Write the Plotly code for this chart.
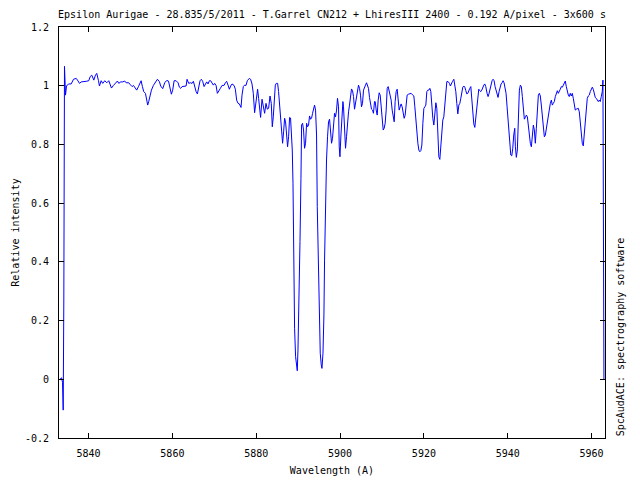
import plotly.graph_objects as go

# Wavelength (Angstrom) and relative intensity
wavelength = [
    5833.19, 5833.55, 5833.79, 5833.95, 5834.10, 5834.26, 5834.50, 5834.74, 5835.22, 5835.86,
    5836.41, 5837.05, 5837.36, 5837.84, 5838.24, 5838.79, 5839.43, 5840.05, 5840.39, 5840.77,
    5841.01, 5841.25, 5841.65, 5841.96, 5842.37, 5842.60, 5843.01, 5843.39, 5843.87, 5844.34,
    5844.82, 5845.15, 5845.46, 5845.94, 5846.42, 5846.89, 5847.20, 5847.68, 5848.16, 5848.63,
    5848.97, 5849.59, 5849.99, 5850.40, 5850.71, 5851.18, 5851.49, 5851.90, 5852.30, 5852.54,
    5852.85, 5853.16, 5853.57, 5853.88, 5854.11, 5854.35, 5854.69, 5855.00, 5855.47, 5855.95,
    5856.43, 5856.90, 5857.21, 5857.69, 5858.17, 5858.57, 5858.98, 5859.12, 5859.45, 5859.76,
    5860.07, 5860.41, 5860.88, 5861.36, 5861.67, 5861.98, 5862.31, 5862.79, 5863.27, 5863.50,
    5863.89, 5864.29, 5864.70, 5865.01, 5865.32, 5865.65, 5865.96, 5866.27, 5866.60, 5866.91,
    5867.22, 5867.56, 5867.87, 5868.18, 5868.51, 5868.82, 5869.13, 5869.46, 5869.77, 5870.08,
    5870.42, 5870.73, 5871.04, 5871.44, 5871.84, 5872.32, 5872.63, 5872.94, 5873.28, 5873.59,
    5873.90, 5874.23, 5874.71, 5875.02, 5875.33, 5875.66, 5875.97, 5876.37, 5876.61, 5876.92,
    5877.23, 5877.56, 5877.87, 5878.35, 5878.66, 5878.99, 5879.30, 5879.61, 5879.85, 5880.09,
    5880.33, 5880.57, 5880.81, 5881.04, 5881.38, 5881.69, 5882.00, 5882.33, 5882.64, 5882.95,
    5883.29, 5883.59, 5883.83, 5884.07, 5884.31, 5884.55, 5884.79, 5885.10, 5885.33, 5885.57,
    5885.81, 5886.05, 5886.29, 5886.53, 5886.77, 5887.00, 5887.24, 5887.48, 5887.72, 5887.96,
    5888.19, 5888.36, 5888.60, 5888.77, 5888.91, 5889.15, 5889.39, 5889.62, 5889.79, 5889.96,
    5890.20, 5890.44, 5890.67, 5890.82, 5891.05, 5891.29, 5891.53, 5891.77, 5892.01, 5892.25,
    5892.48, 5892.72, 5892.96, 5893.20, 5893.44, 5893.68, 5893.91, 5894.15, 5894.39, 5894.56,
    5894.80, 5895.03, 5895.27, 5895.51, 5895.68, 5895.92, 5896.15, 5896.30, 5896.54, 5896.77,
    5897.01, 5897.25, 5897.49, 5897.73, 5897.97, 5898.20, 5898.44, 5898.68, 5898.92, 5899.16,
    5899.39, 5899.63, 5899.80, 5899.97, 5900.21, 5900.44, 5900.68, 5900.82, 5901.06, 5901.30,
    5901.54, 5901.78, 5902.02, 5902.25, 5902.49, 5902.73, 5902.97, 5903.21, 5903.45, 5903.68,
    5903.92, 5904.16, 5904.40, 5904.64, 5904.88, 5905.11, 5905.35, 5905.59, 5905.83, 5906.07,
    5906.31, 5906.54, 5906.78, 5907.02, 5907.26, 5907.50, 5907.74, 5907.97, 5908.21, 5908.38,
    5908.62, 5908.86, 5909.09, 5909.33, 5909.57, 5909.81, 5910.05, 5910.29, 5910.52, 5910.76,
    5911.00, 5911.24, 5911.48, 5911.72, 5911.95, 5912.19, 5912.43, 5912.67, 5912.91, 5913.14,
    5913.38, 5913.62, 5913.86, 5914.10, 5914.34, 5914.57, 5914.81, 5915.05, 5915.29, 5915.53,
    5915.77, 5916.00, 5916.31, 5916.65, 5916.96, 5917.27, 5917.60, 5917.84, 5918.08, 5918.32,
    5918.56, 5918.79, 5919.03, 5919.27, 5919.51, 5919.75, 5919.99, 5920.22, 5920.46, 5920.70,
    5920.94, 5921.18, 5921.42, 5921.65, 5921.89, 5922.13, 5922.37, 5922.61, 5922.85, 5923.08,
    5923.32, 5923.56, 5923.80, 5924.04, 5924.27, 5924.51, 5924.75, 5924.99, 5925.23, 5925.47,
    5925.78, 5926.09, 5926.32, 5926.56, 5926.80, 5927.14, 5927.37, 5927.61, 5927.85, 5928.09,
    5928.33, 5928.57, 5928.80, 5929.04, 5929.28, 5929.52, 5929.76, 5930.00, 5930.23, 5930.47,
    5930.71, 5930.95, 5931.19, 5931.43, 5931.66, 5931.90, 5932.14, 5932.38, 5932.62, 5932.86,
    5933.09, 5933.33, 5933.57, 5933.81, 5934.05, 5934.29, 5934.52, 5934.76, 5935.07, 5935.31,
    5935.55, 5935.79, 5936.02, 5936.26, 5936.50, 5936.74, 5936.98, 5937.22, 5937.45, 5937.69,
    5937.93, 5938.17, 5938.41, 5938.65, 5938.88, 5939.12, 5939.36, 5939.60, 5939.84, 5940.08,
    5940.31, 5940.55, 5940.72, 5940.96, 5941.20, 5941.43, 5941.67, 5941.82, 5942.05, 5942.29,
    5942.53, 5942.77, 5943.01, 5943.25, 5943.48, 5943.72, 5943.96, 5944.20, 5944.44, 5944.68,
    5944.91, 5945.15, 5945.39, 5945.63, 5945.87, 5946.11, 5946.34, 5946.58, 5946.82, 5947.06,
    5947.30, 5947.54, 5947.77, 5948.01, 5948.25, 5948.49, 5948.73, 5948.97, 5949.20, 5949.44,
    5949.68, 5949.92, 5950.16, 5950.40, 5950.63, 5950.87, 5951.11, 5951.35, 5951.59, 5951.83,
    5952.06, 5952.30, 5952.54, 5952.78, 5953.02, 5953.26, 5953.49, 5953.73, 5953.97, 5954.21,
    5954.45, 5954.68, 5954.92, 5955.16, 5955.40, 5955.64, 5955.88, 5956.11, 5956.35, 5956.59,
    5956.83, 5957.07, 5957.31, 5957.54, 5957.78, 5958.02, 5958.26, 5958.50, 5958.74, 5958.97,
    5959.21, 5959.45, 5959.69, 5959.93, 5960.17, 5960.40, 5960.64, 5960.88, 5961.12, 5961.36,
    5961.60, 5961.83, 5962.07, 5962.31, 5962.55, 5962.71, 5962.83, 5962.95,
]

intensity = [
    0.000, 0.005, -0.010, -0.105, 0.270, 1.066, 0.968, 0.999, 1.006, 1.006,
    1.022, 1.025, 1.019, 1.008, 1.013, 1.013, 1.015, 1.017, 1.031, 1.036,
    1.029, 1.019, 1.036, 1.042, 1.017, 0.999, 1.017, 1.008, 1.017, 1.010,
    1.017, 0.999, 0.992, 1.001, 1.010, 1.016, 1.008, 1.013, 1.013, 1.016,
    1.010, 1.010, 1.003, 0.997, 1.001, 0.992, 0.985, 0.997, 1.010, 1.017,
    0.997, 0.980, 0.974, 0.951, 0.934, 0.946, 0.974, 0.985, 1.001, 1.013,
    1.022, 1.014, 0.999, 0.990, 1.010, 1.017, 1.017, 1.013, 0.985, 0.971,
    0.985, 1.017, 1.017, 1.010, 0.995, 0.991, 0.997, 0.999, 0.999, 1.022,
    1.008, 1.010, 1.008, 1.015, 0.997, 0.980, 0.972, 0.995, 1.017, 1.022,
    1.015, 0.997, 1.006, 1.013, 1.006, 1.017, 1.017, 1.010, 1.002, 1.008,
    1.001, 0.974, 0.980, 0.991, 1.001, 1.001, 1.010, 1.015, 1.002, 0.988,
    0.999, 1.006, 1.001, 0.988, 0.951, 0.940, 0.938, 0.926, 0.968, 0.997,
    1.002, 1.001, 1.017, 1.025, 1.022, 1.006, 0.974, 0.908, 0.934, 0.965,
    0.988, 0.957, 0.917, 0.892, 0.954, 0.934, 0.906, 0.940, 0.920, 0.923,
    0.965, 0.940, 0.860, 0.894, 0.974, 1.002, 1.008, 1.008, 0.980, 0.934,
    0.881, 0.826, 0.804, 0.843, 0.889, 0.877, 0.815, 0.792, 0.826, 0.892,
    0.890, 0.855, 0.781, 0.668, 0.338, 0.174, 0.077, 0.043, 0.029, 0.100,
    0.242, 0.469, 0.685, 0.866, 0.872, 0.849, 0.787, 0.804, 0.872, 0.860,
    0.866, 0.897, 0.886, 0.889, 0.906, 0.928, 0.934, 0.917, 0.832, 0.588,
    0.378, 0.191, 0.089, 0.049, 0.037, 0.089, 0.219, 0.406, 0.634, 0.747,
    0.826, 0.877, 0.886, 0.843, 0.804, 0.821, 0.855, 0.906, 0.894, 0.917,
    0.957, 0.928, 0.792, 0.758, 0.832, 0.900, 0.946, 0.928, 0.855, 0.787,
    0.826, 0.883, 0.911, 0.934, 0.974, 0.989, 0.983, 0.963, 0.920, 0.940,
    0.965, 0.974, 1.002, 0.991, 0.968, 0.928, 0.940, 0.985, 0.997, 1.002,
    1.010, 1.002, 0.991, 0.960, 0.931, 0.920, 0.917, 0.906, 0.946, 0.946,
    0.917, 0.900, 0.951, 0.976, 0.968, 0.928, 0.883, 0.849, 0.855, 0.872,
    0.917, 0.991, 0.997, 0.980, 0.974, 0.951, 0.917, 0.889, 0.877, 0.946,
    0.980, 0.988, 0.951, 0.917, 0.928, 0.938, 0.928, 0.911, 0.889, 0.900,
    0.934, 0.968, 0.971, 0.974, 0.974, 0.969, 0.965, 0.928, 0.883, 0.821,
    0.804, 0.781, 0.775, 0.779, 0.798, 0.872, 0.923, 0.928, 0.934, 0.980,
    0.985, 0.985, 0.991, 0.980, 0.928, 0.889, 0.866, 0.900, 0.942, 0.923,
    0.838, 0.758, 0.749, 0.809, 0.843, 0.883, 0.894, 0.928, 0.974, 1.014,
    1.014, 1.008, 0.999, 1.008, 1.014, 1.022, 1.002, 0.980, 0.940, 0.904,
    0.934, 0.940, 0.957, 0.974, 0.995, 0.999, 0.995, 0.983, 0.972, 0.974,
    0.985, 0.991, 0.997, 0.946, 0.889, 0.870, 0.858, 0.889, 0.923, 0.957,
    0.988, 0.983, 0.980, 0.985, 0.997, 1.002, 1.006, 0.997, 0.974, 0.963,
    0.974, 0.991, 1.008, 1.017, 1.022, 1.017, 0.997, 0.985, 0.974, 0.960,
    0.980, 0.997, 1.006, 1.010, 1.017, 1.010, 0.995, 0.974, 0.928, 0.877,
    0.826, 0.792, 0.764, 0.761, 0.787, 0.832, 0.855, 0.792, 0.756, 0.781,
    0.860, 0.985, 1.002, 0.997, 0.963, 0.917, 0.886, 0.892, 0.900, 0.894,
    0.866, 0.826, 0.804, 0.792, 0.843, 0.866, 0.849, 0.804, 0.855, 0.923,
    0.968, 0.974, 0.965, 0.934, 0.889, 0.849, 0.826, 0.832, 0.855, 0.877,
    0.906, 0.923, 0.940, 0.951, 0.934, 0.940, 0.946, 0.963, 0.976, 0.983,
    0.974, 0.985, 0.988, 0.997, 0.995, 1.002, 1.008, 1.016, 0.997, 0.974,
    0.968, 0.963, 0.974, 0.965, 0.974, 0.957, 0.942, 0.917, 0.920, 0.923,
    0.923, 0.911, 0.872, 0.832, 0.804, 0.795, 0.843, 0.889, 0.923, 0.957,
    0.965, 0.968, 0.980, 0.991, 0.995, 0.988, 0.974, 0.960, 0.957, 0.951,
    0.946, 0.951, 0.946, 0.963, 0.980, 1.019, 0.520, 0.000,
]

x_range = [5832.95, 5963.2]
y_range = [-0.2, 1.2]
x_tick_vals = [5840, 5860, 5880, 5900, 5920, 5940, 5960]
x_tick_text = ["5840", "5860", "5880", "5900", "5920", "5940", "5960"]
y_tick_vals = [-0.2, 0, 0.2, 0.4, 0.6, 0.8, 1.0, 1.2]
y_tick_text = ["-0.2", "0", "0.2", "0.4", "0.6", "0.8", "1", "1.2"]

title_text = "Epsilon Aurigae - 28.835/5/2011 - T.Garrel CN212 + LhiresIII 2400 - 0.192 A/pixel - 3x600 s"
x_title = "Wavelength (A)"
y_title = "Relative intensity"
side_note = "SpcAudACE: spectrography software"

FONT = "DejaVu Sans Mono"
FS = 10

# The page body has an 8px margin, so the figure is sized 632x472 to fill the 640x480 window.
W, H = 632, 472

fig = go.Figure()
fig.add_trace(go.Scatter(
    x=wavelength, y=intensity, mode="lines",
    line=dict(color="#0000ff", width=1),
    showlegend=False, hoverinfo="skip",
))

axis_common = dict(
    showline=True, linecolor="black", linewidth=1, mirror="ticks",
    ticks="inside", ticklen=5, tickcolor="black", tickwidth=1,
    showgrid=False, zeroline=False, automargin=False,
    tickfont=dict(family=FONT, size=FS, color="black"),
)

fig.update_xaxes(range=x_range, tickmode="array", tickvals=x_tick_vals,
                 ticktext=x_tick_text, ticklabelstandoff=6,
                 title=dict(text=x_title, font=dict(family=FONT, size=FS, color="black"),
                            standoff=8),
                 **axis_common)
fig.update_yaxes(range=y_range, tickmode="array", tickvals=y_tick_vals,
                 ticktext=y_tick_text, ticklabelstandoff=7,
                 title=dict(text=y_title, font=dict(family=FONT, size=FS, color="black"),
                            standoff=3),
                 **axis_common)

fig.update_layout(
    width=W, height=H,
    margin=dict(l=51, r=35, t=19, b=42, autoexpand=False),
    paper_bgcolor="white", plot_bgcolor="white",
    title=dict(text=title_text, x=0.5, xref="paper", xanchor="center",
               y=1 - 6 / H, yref="container", yanchor="middle",
               font=dict(family=FONT, size=FS, color="black")),
    annotations=[dict(
        text=side_note, textangle=-90, xref="paper", yref="paper",
        x=1.0, y=0.245, xanchor="center", yanchor="middle", xshift=15,
        showarrow=False, font=dict(family=FONT, size=FS, color="black"),
    )],
)

fig.write_html("out.html")
